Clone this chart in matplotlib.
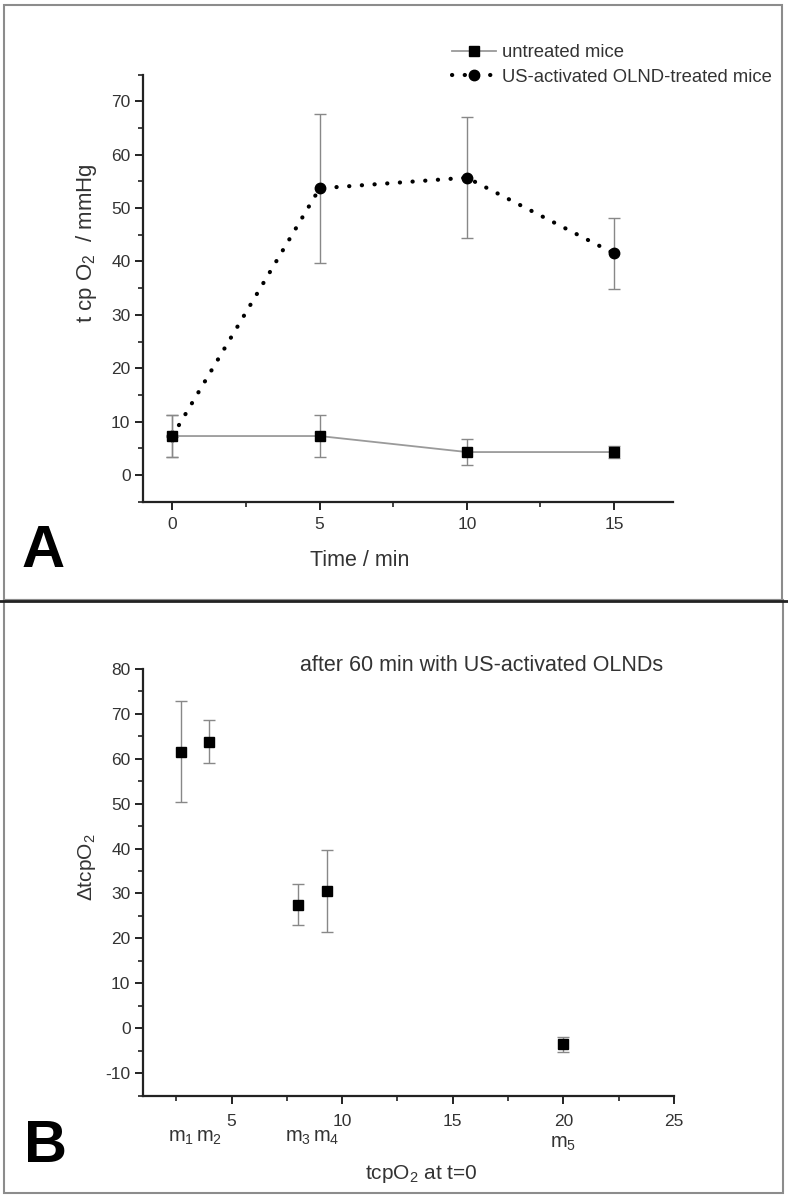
import numpy as np
import matplotlib
matplotlib.use("Agg")
import matplotlib.pyplot as plt
from matplotlib.patches import Rectangle
from matplotlib.lines import Line2D
from matplotlib.ticker import MultipleLocator
import matplotlib.transforms as mtrans

plt.rcParams['font.family'] = ['Liberation Sans', 'DejaVu Sans']
plt.rcParams['mathtext.fontset'] = 'custom'
plt.rcParams['mathtext.rm'] = 'Liberation Sans'
plt.rcParams['mathtext.it'] = 'Liberation Sans'
plt.rcParams['axes.unicode_minus'] = False

# panel A data
time = [0, 5, 10, 15]
untreated = [7.3, 7.3, 4.3, 4.3]
untreated_err = [4.0, 4.0, 2.4, 1.1]
treated = [7.3, 53.7, 55.7, 41.5]
treated_err = [4.0, 14.0, 11.3, 6.7]

# panel B data
tcp0 = [2.7, 4.0, 8.0, 9.3, 20.0]
delta = [61.6, 63.8, 27.5, 30.6, -3.6]
delta_err = [11.2, 4.8, 4.6, 9.1, 1.7]
mice = ['m$_1$', 'm$_2$', 'm$_3$', 'm$_4$', 'm$_5$']

txt = '#333333'
errc = '#888888'

fig = plt.figure(figsize=(7.88, 11.99), dpi=100)

# frames round the panels
H = 1199.0
W = 788.0
fig.add_artist(Rectangle((4 / W, 1 - 600 / H), 778 / W, 595 / H, transform=fig.transFigure,
                         fill=False, ec='#8c8c8c', lw=1.5))
fig.add_artist(Rectangle((4 / W, 1 - 1193 / H), 779 / W, 593 / H, transform=fig.transFigure,
                         fill=False, ec='#8c8c8c', lw=1.5))
fig.add_artist(Line2D([0, 1], [1 - 600.5 / H] * 2, transform=fig.transFigure, color='#222222', lw=2))


def style(ax):
    for s in ['top', 'right']:
        ax.spines[s].set_visible(False)
    for s in ['left', 'bottom']:
        ax.spines[s].set_linewidth(1.6)
        ax.spines[s].set_color('#222222')
    ax.tick_params(which='major', direction='out', length=6, width=1.4, color='#222222',
                   labelsize=12.5, labelcolor=txt)
    ax.tick_params(which='minor', direction='out', length=3.5, width=1.2, color='#222222')
    ax.tick_params(axis='x', pad=5)
    ax.tick_params(axis='y', pad=3)


# ---- panel A ----
axA = fig.add_axes([143 / W, 1 - 501.7 / H, 530 / W, 427.1 / H])
style(axA)
axA.errorbar(time, untreated, yerr=untreated_err, color='#9a9a9a', lw=1.3, ecolor=errc,
             elinewidth=1.0, capsize=4, capthick=1.0, marker='s', ms=7, mfc='black', mec='black',
             zorder=3)
axA.errorbar(time, treated, yerr=treated_err, color='black', lw=3, ls=(0, (0.05, 3.0)),
             dash_capstyle='round', ecolor=errc, elinewidth=1.0, capsize=4, capthick=1.0,
             marker='o', ms=7.5, mfc='black', mec='black', zorder=2)
axA.set_xlim(-1, 17)
axA.set_ylim(-5, 75)
axA.set_xticks([0, 5, 10, 15])
axA.xaxis.set_minor_locator(MultipleLocator(2.5))
axA.set_yticks(np.arange(0, 71, 10))
axA.yaxis.set_minor_locator(MultipleLocator(5))
axA.set_xlabel('Time / min', fontsize=15.5, color=txt)
axA.xaxis.set_label_coords(0.408, -0.113)
axA.set_ylabel('t cp O$_2$  / mmHg', fontsize=16, color=txt)
axA.yaxis.set_label_coords(-0.083, 0.606)
h1 = Line2D([], [], color='#9a9a9a', lw=1.3, marker='s', ms=7, mfc='black', mec='black')
h2 = Line2D([], [], color='black', lw=3, ls=(0, (0.05, 3.0)), dash_capstyle='round',
            marker='o', ms=7.5, mfc='black', mec='black')
leg = axA.legend([h1, h2], ['untreated mice', 'US-activated OLND-treated mice'],
                 loc='upper left', bbox_to_anchor=(452 / W, 1 - 44 / H), bbox_transform=fig.transFigure,
                 frameon=False, fontsize=13.3, handlelength=2.4, handletextpad=0.3,
                 borderpad=0, borderaxespad=0, labelspacing=0.42)
for t in leg.get_texts():
    t.set_color(txt)
fig.text(22 / W, 1 - 567 / H, 'A', fontsize=43, fontweight='bold',
         ha='left', va='baseline', color='black')

# ---- panel B ----
axB = fig.add_axes([143 / W, 1 - 1095.5 / H, 531 / W, 426.5 / H])
style(axB)
axB.errorbar(tcp0, delta, yerr=delta_err, ls='none', ecolor=errc, elinewidth=1.0, capsize=4,
             capthick=1.0, marker='s', ms=7, mfc='black', mec='black')
axB.set_xlim(1, 25)
axB.set_ylim(-15, 80)
axB.set_xticks([5, 10, 15, 20, 25])
axB.xaxis.set_minor_locator(MultipleLocator(2.5))
axB.set_yticks(np.arange(-10, 81, 10))
axB.yaxis.set_minor_locator(MultipleLocator(5))
axB.tick_params(axis='x', pad=7)
axB.set_xlabel('tcpO$_2$ at t=0', fontsize=15, color=txt)
axB.xaxis.set_label_coords(0.524, -0.158)
axB.set_ylabel(r'$\Delta$tcpO$_2$', fontsize=15, color=txt)
axB.yaxis.set_label_coords(-0.085, 0.536)
axB.text(0.637, 1.009, 'after 60 min with US-activated OLNDs', transform=axB.transAxes,
         ha='center', va='center', fontsize=15.5, color=txt)
tr = mtrans.blended_transform_factory(axB.transData, axB.transAxes)
for i, lab in enumerate(mice):
    yy = -0.112 if i == 4 else -0.098
    axB.text(tcp0[i], yy, lab, transform=tr, ha='center', va='center', fontsize=14.5, color=txt)
fig.text(24 / W, 1 - 1162 / H, 'B', fontsize=43, fontweight='bold',
         ha='left', va='baseline', color='black')

fig.savefig('out.png', dpi=100, facecolor='white')
